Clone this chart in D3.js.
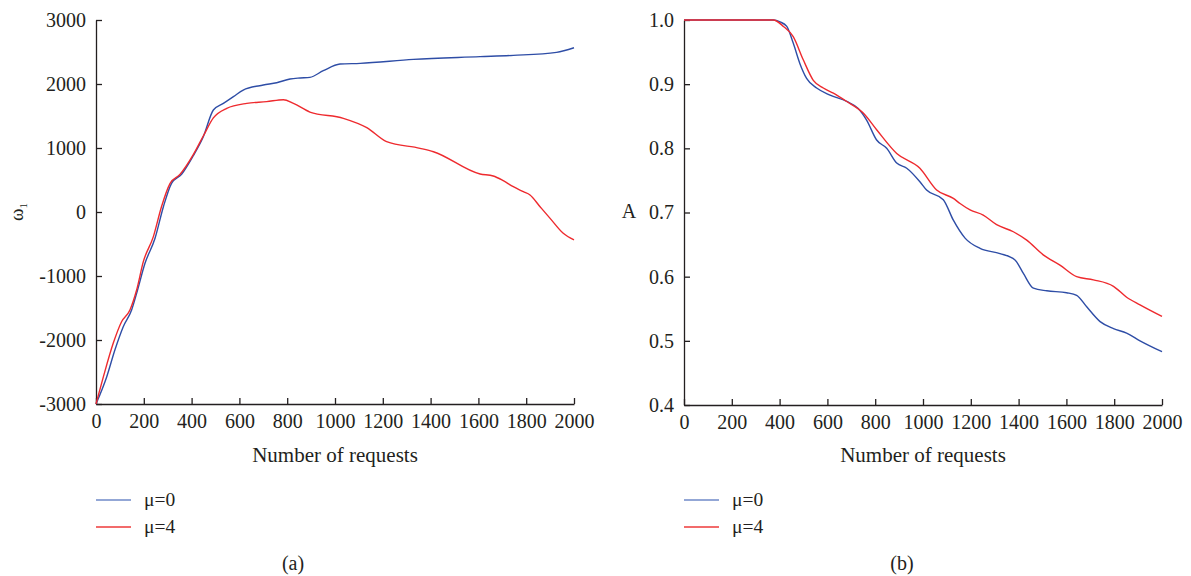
<!DOCTYPE html>
<html>
<head>
<meta charset="utf-8">
<script src="https://cdn.jsdelivr.net/npm/d3@7"></script>
<style>
  body { margin: 0; background: #fff; }
  svg { font-family: "Liberation Serif", "DejaVu Serif", serif; }
  .axis path, .axis line { stroke: #231f20; stroke-width: 1.3; }
  .axis text { fill: #231f20; font-size: 20px; font-family: "Liberation Serif", serif; }
</style>
</head>
<body>
<div id="chart"></div>
<script>
// ---- data ----
var xTicks = [0, 200, 400, 600, 800, 1000, 1200, 1400, 1600, 1800, 2000];
var wTicks = [-3000, -2000, -1000, 0, 1000, 2000, 3000];
var aTicks = [0.4, 0.5, 0.6, 0.7, 0.8, 0.9, 1.0];
var seriesNames = ["\u03bc=0", "\u03bc=4"];

// panel (a): omega_1 vs requests
var w_mu0_x = [0, 45, 79, 114, 149, 170, 205, 247, 282, 316, 358, 407, 449, 491, 533, 575, 616, 700, 756, 812, 854, 895, 951, 1021, 1105, 1328, 1607, 1746, 1927, 2000];
var w_mu0_y = [-3000, -2573, -2156, -1792, -1531, -1271, -802, -411, 83, 448, 590, 880, 1177, 1594, 1698, 1802, 1906, 1984, 2020, 2078, 2094, 2104, 2208, 2312, 2323, 2385, 2427, 2448, 2495, 2567];
var w_mu4_x = [0, 31, 72, 107, 142, 170, 198, 240, 274, 310, 351, 407, 450, 491, 547, 631, 714, 784, 826, 895, 1035, 1133, 1216, 1356, 1412, 1607, 1662, 1704, 1746, 1788, 1816, 1858, 1900, 1955, 2000];
var w_mu4_y = [-3000, -2573, -2052, -1714, -1531, -1219, -776, -385, 83, 448, 585, 895, 1195, 1470, 1620, 1698, 1724, 1755, 1698, 1562, 1464, 1318, 1099, 995, 942, 594, 563, 489, 395, 317, 266, 83, -99, -333, -437];

// panel (b): A vs requests
var a_mu0_x = [0, 374, 402, 430, 457, 485, 513, 555, 611, 681, 729, 764, 806, 848, 890, 932, 987, 1015, 1085, 1127, 1176, 1239, 1322, 1385, 1420, 1462, 1518, 1601, 1643, 1685, 1741, 1797, 1852, 1908, 2000];
var a_mu0_y = [1.0, 1.0, 0.997, 0.990, 0.964, 0.932, 0.909, 0.894, 0.883, 0.873, 0.862, 0.844, 0.813, 0.800, 0.777, 0.769, 0.748, 0.735, 0.720, 0.688, 0.660, 0.644, 0.636, 0.626, 0.605, 0.582, 0.578, 0.575, 0.571, 0.553, 0.530, 0.519, 0.512, 0.500, 0.483];
var a_mu4_x = [0, 374, 416, 457, 499, 541, 583, 625, 681, 750, 806, 890, 987, 1057, 1127, 1155, 1197, 1252, 1308, 1378, 1434, 1503, 1573, 1643, 1713, 1797, 1852, 1908, 2000];
var a_mu4_y = [1.0, 1.0, 0.990, 0.974, 0.938, 0.906, 0.894, 0.886, 0.873, 0.855, 0.829, 0.792, 0.769, 0.735, 0.722, 0.714, 0.704, 0.696, 0.681, 0.670, 0.657, 0.634, 0.618, 0.600, 0.595, 0.585, 0.568, 0.556, 0.538];

var colors = ["#2e4da6", "#ee2a2e"];
var legendColors = ["#6f8ac9", "#ee3a3a"];

var svg = d3.select("#chart").append("svg")
    .attr("width", 1191)
    .attr("height", 576);

function zip(xs, ys) {
    return xs.map(function (x, i) { return { x: x, y: ys[i] }; });
}

// plain hyphen for negatives, like the original figure
function hyphenFormat(fmt) {
    var f = d3.format(fmt);
    return function (d) { return f(d).replace("\u2212", "-"); };
}

function drawPanel(opts) {
    var x = d3.scaleLinear().domain([0, 2000]).range([opts.left, opts.right]);
    var y = d3.scaleLinear().domain(opts.yDomain).range([opts.bottom, opts.top]);

    // x axis
    svg.append("g")
        .attr("class", "axis")
        .attr("transform", "translate(0," + opts.bottom + ")")
        .call(d3.axisTop(x).tickValues(xTicks).tickSize(6).tickSizeOuter(0).tickFormat(d3.format("d")))
        .call(function (g) {
            g.selectAll("text").attr("y", 10).attr("dy", "0.71em");
        });

    // y axis
    svg.append("g")
        .attr("class", "axis")
        .attr("transform", "translate(" + opts.left + ",0)")
        .call(d3.axisRight(y).tickValues(opts.yTicks).tickSize(6).tickSizeOuter(0).tickFormat(opts.yFormat))
        .call(function (g) {
            g.selectAll("text").attr("x", -10).attr("text-anchor", "end");
        });

    var line = d3.line()
        .x(function (d) { return x(d.x); })
        .y(function (d) { return y(d.y); })
        .curve(d3.curveMonotoneX);

    opts.series.forEach(function (s, i) {
        svg.append("path")
            .datum(s)
            .attr("fill", "none")
            .attr("stroke", colors[i])
            .attr("stroke-width", 1.4)
            .attr("d", line);
    });

    // x label
    svg.append("text")
        .attr("x", (opts.left + opts.right) / 2)
        .attr("y", 462)
        .attr("text-anchor", "middle")
        .attr("font-size", "21px")
        .attr("fill", "#231f20")
        .text("Number of requests");

    // legend
    seriesNames.forEach(function (name, i) {
        var ly = 500 + i * 27;
        svg.append("line")
            .attr("x1", opts.left).attr("x2", opts.left + 35)
            .attr("y1", ly).attr("y2", ly)
            .attr("stroke", legendColors[i])
            .attr("stroke-width", 1.3);
        svg.append("text")
            .attr("x", opts.left + 48)
            .attr("y", ly + 6)
            .attr("font-size", "19.5px")
            .attr("fill", "#231f20")
            .text(name);
    });

    // panel caption
    svg.append("text")
        .attr("x", opts.captionX)
        .attr("y", 570)
        .attr("text-anchor", "middle")
        .attr("font-size", "20px")
        .attr("fill", "#231f20")
        .text(opts.caption);

    return { x: x, y: y };
}

drawPanel({
    left: 96, right: 574, top: 20, bottom: 404,
    yDomain: [-3000, 3000], yTicks: wTicks, yFormat: hyphenFormat("d"),
    series: [zip(w_mu0_x, w_mu0_y), zip(w_mu4_x, w_mu4_y)],
    caption: "(a)", captionX: 293
});

drawPanel({
    left: 684, right: 1162, top: 20, bottom: 405,
    yDomain: [0.4, 1.0], yTicks: aTicks, yFormat: d3.format(".1f"),
    series: [zip(a_mu0_x, a_mu0_y), zip(a_mu4_x, a_mu4_y)],
    caption: "(b)", captionX: 902
});

// y labels
var wLabel = svg.append("text")
    .attr("transform", "translate(23,212) rotate(-90)")
    .attr("text-anchor", "middle")
    .attr("font-size", "19px")
    .attr("fill", "#231f20");
wLabel.append("tspan").text("\u03c9");
wLabel.append("tspan").attr("font-size", "11px").attr("dy", 4).text("1");

svg.append("text")
    .attr("x", 629)
    .attr("y", 218)
    .attr("text-anchor", "middle")
    .attr("font-size", "20px")
    .attr("fill", "#231f20")
    .text("A");
</script>
</body>
</html>
